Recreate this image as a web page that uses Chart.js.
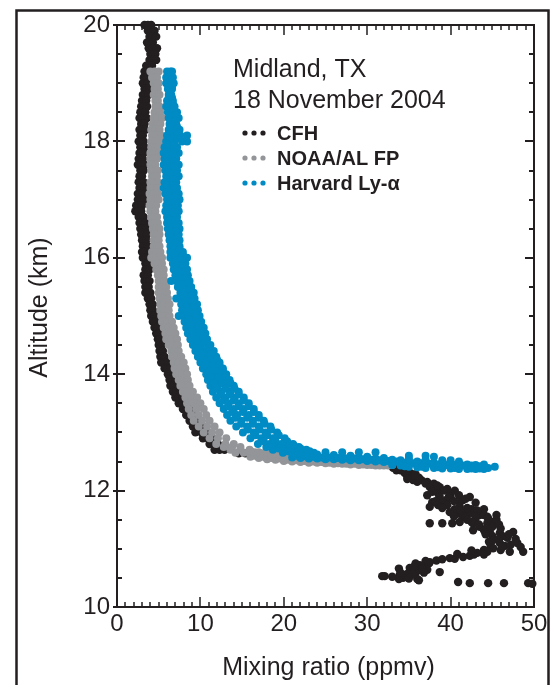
<!DOCTYPE html>
<html><head><meta charset="utf-8">
<script src="https://cdn.jsdelivr.net/npm/chart.js@4/dist/chart.umd.min.js"></script>
<style>html,body{margin:0;padding:0;background:#fff;overflow:hidden}canvas{display:block}</style>
</head><body>
<canvas id="c" width="558" height="685"></canvas>
<script>
// ---------- tick labels and texts ----------
const xTickLabels = [0, 10, 20, 30, 40, 50];
const yTickLabels = [10, 12, 14, 16, 18, 20];
const seriesNames = ['CFH', 'NOAA/AL FP', 'Harvard Ly-\u03b1'];
const annotationLines = ['Midland, TX', '18 November 2004'];
const xTitle = 'Mixing ratio (ppmv)';
const yTitle = 'Altitude (km)';

// ---------- CFH (black): altitude levels (km) and mixing ratios (ppmv) read at each ----------
const cfhAlt = [20.0,19.9,19.8,19.7,19.6,19.5,19.4,19.3,19.2,19.1,
  19.0,18.9,18.8,18.7,18.6,18.5,18.4,18.3,18.2,18.1,
  18.0,17.9,17.8,17.7,17.6,17.5,17.4,17.3,17.2,17.1,
  17.0,16.9,16.8,16.7,16.6,16.5,16.4,16.3,16.2,16.1,
  16.0,15.9,15.8,15.7,15.6,15.5,15.4,15.3,15.2,15.1,
  15.0,14.9,14.8,14.7,14.6,14.5,14.4,14.3,14.2,14.1,
  14.0,13.9,13.8,13.7,13.6,13.5,13.4,13.3,13.2,13.1,
  13.0,12.9,12.8,12.7,12.64,12.55,12.5,12.45];
const cfhX = [[3.3,3.7,4.1],[3.7,4.1,4.5],[3.9,4.3,4.7],[3.6,3.9,4.3],[3.8,4.3,4.8],[4.0,4.3,4.6],[3.9,4.3,4.7],[3.5,3.8,4.2],[3.3,3.5,3.8],[3.2,3.4,3.6],
  [3.1,3.4,3.7],[3.3,3.6,3.9],[3.1,3.4,3.8],[3.0,3.3,3.5],[2.9,3.2,3.6],[2.8,3.1,3.4],[2.7,3.1,3.6],[2.9,3.1,3.3],[2.7,3.0,3.4],[2.8,3.0,3.1],
  [2.6,2.9,3.2],[2.8,3.0,3.3],[2.7,2.9,3.2],[2.6,2.8,3.1],[2.5,2.9,3.3],[2.8,3.0,3.2],[2.7,2.8,3.0],[2.6,2.9,3.2],[2.7,3.0,3.3],[2.5,2.8,3.1],
  [2.5,2.9,3.3],[2.3,2.6,3.0],[2.2,2.5,2.9],[2.6,2.9,3.2],[2.7,3.0,3.4],[2.8,3.1,3.5],[2.9,3.2,3.6],[3.0,3.2,3.5],[3.1,3.4,3.7],[3.0,3.2,3.4],
  [3.1,3.3,3.5],[3.4,3.5,3.7],[3.4,3.6,3.9],[3.2,3.4,3.7],[3.3,3.6,3.9],[3.4,3.6,3.8],[3.4,3.7,4.0],[3.7,3.9,4.1],[3.9,4.1,4.3],[4.0,4.15,4.3],
  [4.1,4.3,4.5],[4.3,4.5,4.7],[4.5,4.7,4.9],[4.7,4.85,5.0],[4.9,5.05,5.2],[5.0,5.2,5.4],[5.1,5.3,5.5],[5.2,5.45,5.7],[5.3,5.7,6.1],[5.7,6.0,6.4],
  [6.1,6.5,6.9],[6.3,6.6,7.0],[6.4,6.8,7.3],[6.7,7.1,7.6],[7.0,7.4,7.9],[7.4,7.8,8.3],[7.9,8.3,8.7],[8.3,8.8,9.2],[8.7,9.2,9.7],[9.1,9.7,10.3],
  [9.4,10.1,10.9],[10.3,10.9,11.5],[11.1,11.6,12.1],[11.7,12.3,12.9],[14.6,15.4],[18,22,26],[28,30],[32]];
// CFH below the tropopause
const cfhLowAlt = [12.39,12.35,12.3,12.25,12.18,12.15,12.12,12.06,12.03,12.0,
  11.95,11.92,11.89,11.84,11.8,11.79,11.75,11.72,11.68,11.63,
  11.6,11.58,11.55,11.52,11.46,11.44,11.38,11.32,11.29,11.27,
  11.22,11.19,11.15,11.1,11.05,11.01,10.98,10.95,10.93,10.9,
  10.88,10.86,10.84,10.83,10.82,10.8,10.77,10.72,10.7,10.67,
  10.64,10.62,10.6,10.57,10.55,10.53,10.5,10.48,10.46,10.43,
  10.41,10.4];
const cfhLowX = [[33.1],[34.0,33.5],[34.5,35.2],[35.5,34.8],[35.5,36.5],[36.0,37.2],[37.0,38.0],[37.5,38.7],[38.0,39.6],[39.2,40.5],
  [38.5,40.0],[37.2,41.0],[38.7,40.0,42.3],[39.5,41.5],[37.8,39.0],[41.1,43.0],[38.5,39.6],[37.5,41.1],[40.5,42.5,44.0],[39.9,41.5],
  [40.8,42.8],[42.0,43.5,44.0,45.5],[41.5,44.4],[43.0,44.5],[41.1,42.5,45.0],[37.5,39.0,40.2,42.7,44.4],[43.5,45.0],[42.7,44.0],[44.7,47.5],[45.9],
  [45.0,46.2],[46.8],[45.1],[45.9,48.0],[44.8,46.5],[45.1],[44.0,46.0],[44.4,47.1,48.7],[43.2],[42.8,44.0],
  [42.3],[41.5],[39.9],[40.5],[39.0],[38.3],[37.5],[36.3],[36.9],[35.1],
  [37.2],[36.0],[38.7],[34.8],[33.9],[32.1,31.8],[34.3],[36.0,33.8],[36.2],[40.9],
  [42.3,44.5,46.4,49.3],[49.8]];
const cfhExtraAlt = [12.37,12.33,12.28,12.22,12.2,12.09,11.98,11.9,11.86,11.82,
  11.7,11.66,11.56,11.5,11.42,11.35,11.25,11.17,11.12,11.07,
  11.03,10.97,10.91,10.79,10.75,10.69,10.66,10.59,10.56,10.52,10.49];
const cfhExtraX = [[33.6],[34.6],[35.8],[36.2],[34.8],[38.4],[37.8],[39.8],[41.8],[38.2,40.4],
  [39.0,42.0],[41.2,43.2],[40.4,43.0],[42.0,45.5],[43.4,45.8],[44.3,46.0],[44.2,47.0],[45.8,47.8],[44.6],[47.2],
  [46.2,48.4],[42.5],[40.8],[37.0],[35.8,37.4],[35.6],[33.8,36.6],[34.0,36.8],[35.5],[33.0],[35.0]];

// ---------- NOAA/AL frost point (grey) ----------
const noaaAlt = [19.2,19.1,19.0,18.9,18.8,18.7,18.6,18.5,18.4,18.3,
  18.2,18.1,18.0,17.9,17.8,17.7,17.6,17.5,17.4,17.3,
  17.2,17.1,17.0,16.9,16.8,16.7,16.6,16.5,16.4,16.3,
  16.2,16.1,16.0,15.9,15.8,15.7,15.6,15.5,15.4,15.3,
  15.2,15.1,15.0,14.9,14.8,14.7,14.6,14.5,14.4,14.3,
  14.2,14.1,14.0,13.9,13.8,13.7,13.6,13.5,13.4,13.3,
  13.2,13.1,13.0,12.9,12.8,12.75,12.7,12.65];
const noaaX = [[4.0,4.5,5.0],[4.2,4.5,4.8],[4.4,4.7,5.0],[4.5,4.7,4.9],[4.4,4.8,5.1],[4.6,4.8,4.9],[4.6,4.9,5.1],[4.5,4.9,5.2],[4.4,4.9,5.4],[4.3,4.8,5.2],
  [4.1,4.6,5.1],[4.2,4.8,5.3],[4.1,4.7,5.3],[4.1,4.6,5.0],[4.0,4.5,5.1],[4.0,4.4,4.8],[4.0,4.3,4.6],[4.1,4.5,4.9],[4.2,4.5,4.8],[4.0,4.5,4.9],
  [4.0,4.4,4.8],[3.9,4.4,4.9],[4.0,4.5,5.0],[3.9,4.3,4.7],[4.0,4.3,4.6],[4.1,4.5,4.8],[4.2,4.5,4.9],[4.3,4.7,5.1],[4.4,4.7,5.1],[4.4,4.7,5.0],
  [4.4,4.8,5.1],[4.2,4.7,5.2],[4.1,4.7,5.4],[4.5,4.9,5.4],[4.7,5.1,5.6],[4.9,5.2,5.6],[5.0,5.3,5.7],[5.0,5.4,5.9],[5.0,5.5,6.0],[5.1,5.6,6.1],
  [5.2,5.7,6.3],[5.2,5.7,6.2],[5.3,5.8,6.3],[5.4,6.0,6.6],[5.6,6.2,6.8],[5.8,6.4,7.0],[5.9,6.5,7.2],[6.2,6.7,7.3],[6.5,6.9,7.4],[6.6,7.2,7.7],
  [6.8,7.4,8.0],[6.9,7.6,8.2],[7.1,7.8,8.4],[7.4,8.0,8.5],[7.6,8.2,8.7],[7.9,8.5,9.1],[8.2,8.9,9.6],[8.4,9.2,10.0],[8.6,9.5,10.4],[8.9,9.8,10.7],
  [9.2,10.2,11.1],[9.8,10.8,11.7],[10.4,11.4,12.3],[11.1,12.1,13.1],[11.9,13.0,14.0],[12.8,13.8,14.8],[13.6,14.8,15.9],[14.2,15.2,16.2,17.0]];
// NOAA along the tropopause shelf: mixing ratio stations and altitudes read at each
const noaaShelfX = [16,16.5,17,17.5,18,18.5,19,19.5,20,20.5,21,21.5,22,22.5,23,23.5,24,24.5,25,25.5,
  26,26.5,27,27.5,28,28.5,29,29.5,30,30.5,31,31.5,32,32.5,33];
const noaaShelfAlt = [[12.58,12.63,12.68],[12.6,12.66],[12.56,12.61,12.66],[12.58,12.64],[12.54,12.59,12.64],[12.56,12.62],[12.53,12.58,12.63],[12.55,12.61],[12.51,12.56,12.62],[12.53,12.59],
  [12.5,12.55,12.61],[12.52,12.58],[12.49,12.54,12.6],[12.51,12.57],[12.48,12.53,12.59],[12.5,12.56],[12.48,12.53,12.58],[12.49,12.55],[12.47,12.52,12.58],[12.48,12.54],
  [12.46,12.51,12.57],[12.47,12.53],[12.46,12.5,12.56],[12.46,12.52],[12.45,12.5,12.55],[12.46,12.51],[12.44,12.49,12.54],[12.45,12.5],[12.44,12.48,12.53],[12.44,12.49],
  [12.43,12.47,12.52],[12.43,12.48],[12.43,12.46,12.5],[12.43,12.47],[12.44,12.46]];

// ---------- Harvard Lyman-alpha (blue) ----------
const harvAlt = [19.2,19.1,19.0,18.9,18.8,18.7,18.6,18.5,18.4,18.3,
  18.2,18.1,18.0,17.9,17.8,17.7,17.6,17.5,17.4,17.3,
  17.2,17.1,17.0,16.9,16.8,16.7,16.6,16.5,16.4,16.3,
  16.2,16.1,16.0,15.9,15.8,15.7,15.6,15.5,15.4,15.3,
  15.2,15.1,15.0,14.9,14.8,14.7,14.6,14.5,14.4,14.3,
  14.2,14.1,14.0,13.9,13.8,13.7,13.6,13.5,13.4,13.3,
  13.2,13.1,13.0,12.9,12.8,12.75,12.7,12.65];
const harvX = [[6.0,6.4,6.6],[5.9,6.3,6.7],[5.9,6.4,6.8],[6.1,6.4,6.6],[6.2,6.5],[6.0,6.4,6.7],[5.9,6.4,6.9],[6.1,6.6,7.2],[6.2,6.8,7.4],[6.3,6.7,7.1],
  [6.2,6.8,7.5],[6.0,6.8,7.6,8.4],[5.9,6.8,7.8,8.4],[5.7,6.5,7.2],[5.6,6.5,7.4],[5.7,6.4,7.1],[5.6,6.5,7.4],[5.8,6.5,7.2],[5.9,6.6,7.4],[5.7,6.4,7.1],
  [5.6,6.4,7.2],[5.8,6.6,7.4],[6.0,6.8,7.5],[5.9,6.6,7.3],[5.8,6.6,7.4],[6.0,6.6,7.2],[6.0,6.7,7.4],[6.1,6.8,7.5],[6.2,6.8,7.4],[6.3,6.9,7.5],
  [6.4,7.0,7.5],[6.4,7.2,7.9],[6.4,7.4,8.4],[6.7,7.5,8.2],[6.8,7.6,8.4],[7.0,7.8,8.5],[6.5,7.1,7.9,8.7],[7.3,8.1,8.9],[7.6,8.4,9.2],[7.1,7.6,8.5,9.3],
  [7.7,8.6,9.6],[7.8,8.8,9.7],[7.4,8.0,9.0,9.9],[8.1,9.1,10.1],[8.3,9.3,10.4],[8.5,9.5,10.6],[8.8,9.8,10.8],[9.1,10.1,11.2],[9.4,10.5,11.6],[9.7,10.8,11.9],
  [10.0,10.8,11.6,12.3],[10.3,11.1,11.9,12.7],[10.7,11.5,12.3,13.1],[10.9,11.8,12.6,13.5],[11.2,12.1,13.1,14.0],[11.5,12.5,13.6,14.6],[11.9,13.0,14.1,15.2],[12.3,13.4,14.6,15.8],[12.8,14.0,15.2,16.4],[13.2,14.4,15.8,17.0],
  [13.6,14.9,16.3,17.6],[14.3,15.6,17.0,18.4],[15.1,16.4,17.8,19.2],[16.0,17.3,18.7,20.1],[16.9,18.3,19.7,21.1],[17.9,19.2,20.5,21.8],[18.7,20.0,21.4,22.7],[19.9,21.1,22.4,23.6]];
// Harvard readings between the levels above
const harvMidAlt = [19.15,19.05,18.95,18.85,18.75,18.65,18.55,18.45,18.35,18.25,
  18.15,18.05,17.95,17.85,17.75,17.65,17.55,17.45,17.35,17.25,
  17.15,17.05,16.95,16.85,16.75,16.65,16.55,16.45,16.35,16.25,
  16.15,16.05,15.95,15.85,15.75,15.65,15.55,15.45,15.35,15.25,
  15.15,15.05,14.95,14.85,14.75,14.65,14.55,14.45,14.35,14.25,
  14.15,14.05,13.95,13.85,13.75,13.65,13.55,13.45,13.35,13.25,
  13.15,13.05,12.95,12.85,12.775,12.725,12.675];
const harvMidX = [[6.2,6.5],[6.1,6.6],[6.2,6.6],[6.3],[6.2,6.6],[6.1,6.7],[6.2,6.8],[6.5,7.1],[6.5,7.0],[6.5,7.2],
  [6.4,7.2],[6.3,7.3],[6.1,6.9],[6.0,6.9],[6.0,6.8],[6.0,6.9],[6.1,6.9],[6.2,7.0],[6.0,6.8],[6.0,6.8],
  [6.2,7.0],[6.4,7.1],[6.3,7.0],[6.2,7.0],[6.3,6.9],[6.3,7.0],[6.4,7.1],[6.5,7.1],[6.6,7.2],[6.7,7.2],
  [6.8,7.5],[6.9,7.9],[7.1,7.8],[7.2,8.0],[7.4,8.2],[7.5,8.3],[7.7,8.5],[8.0,8.8],[8.0,8.9],[8.2,9.1],
  [8.3,9.2],[8.5,9.4],[8.6,9.6],[8.8,9.9],[9.0,10.0],[9.3,10.3],[9.6,10.6],[9.8,11.0],[10.2,11.3],[10.4,11.2,12.0],
  [10.7,11.5,12.3],[11.1,11.9,12.7],[11.3,12.2,13.0],[11.6,12.6,13.6],[12.0,13.0,14.1],[12.4,13.5,14.6],[12.8,14.0,15.2],[13.3,14.6,15.8],[13.8,15.1,16.4],[14.2,15.6,17.0],
  [14.9,16.3,17.7],[15.7,17.1,18.5],[16.6,18.0,19.4],[17.6,19.0,20.4],[18.6,19.9,21.2],[19.4,20.7,22.0],[20.5,21.8,23.1]];
const harvShelfX = [21,21.5,22,22.5,23,23.5,24,24.5,25,25.5,26,26.5,27,27.5,28,28.5,29,29.5,30,30.5,
  31,31.5,32,32.5,33,33.5,34,34.5,35,35.5,36,36.5,37,37.5,38,38.5,39,39.5,40,40.5,
  41,41.5,42,42.5,43,43.5,44,45.3];
const harvShelfAlt = [[12.57,12.64],[12.6],[12.56,12.63],[12.59],[12.55,12.6,12.66],[12.58],[12.55,12.62],[12.57],[12.54,12.59,12.66],[12.57],
  [12.54,12.61],[12.56],[12.53,12.58,12.66],[12.55],[12.52,12.6],[12.55],[12.52,12.57,12.66],[12.54],[12.51,12.58],[12.53],
  [12.5,12.55,12.66],[12.52],[12.49,12.56],[12.51],[12.48,12.53],[12.5],[12.47,12.52],[12.48],[12.45,12.5,12.6],[12.47],
  [12.45,12.5],[12.47],[12.44,12.49,12.6],[12.46],[12.43,12.48,12.58],[12.45],[12.42,12.47],[12.44],[12.42,12.46,12.52],[12.44],
  [12.41,12.46],[12.43],[12.41,12.45],[12.43],[12.41,12.44],[12.42],[12.42],[12.41]];
const harvShelf2X = [33,34,35,36,37,38,39,40,41,42,43,44,34.5,36.5,38.5,40.5,42.5,43.5,44.5];
const harvShelf2Alt = [[12.44],[12.43],[12.41,12.55],[12.4],[12.39,12.53],[12.39],[12.38,12.52],[12.38],[12.37,12.5],[12.37],
  [12.37],[12.37,12.45],[12.42],[12.41],[12.4],[12.39],[12.38],[12.38],[12.39]];

// ---------- build point lists ----------
function byLevel(alts, xs) { const p = []; alts.forEach((a, i) => (xs[i] || []).forEach(v => p.push({x: v, y: a}))); return p; }
function byStation(xs, alts) { const p = []; xs.forEach((v, i) => (alts[i] || []).forEach(a => p.push({x: v, y: a}))); return p; }

const INK = '#231f20', GREY = '#939598', BLUE = '#008bc4';
const FONT = '"Liberation Sans", Arial, Helvetica, sans-serif';
Chart.defaults.font.family = FONT;

const cfhPts = byLevel(cfhAlt, cfhX).concat(byLevel(cfhLowAlt, cfhLowX), byLevel(cfhExtraAlt, cfhExtraX));
const noaaPts = byLevel(noaaAlt, noaaX).concat(byStation(noaaShelfX, noaaShelfAlt));
const harvPts = byLevel(harvAlt, harvX).concat(byLevel(harvMidAlt, harvMidX), byStation(harvShelfX, harvShelfAlt), byStation(harvShelf2X, harvShelf2Alt));

const decor = {
  id: 'decor',
  afterDraw(chart) {
    const {ctx, chartArea: a, scales: {x, y}} = chart;
    ctx.save();
    ctx.strokeStyle = INK; ctx.lineWidth = 2; ctx.lineCap = 'butt';
    const seg = (x1, y1, x2, y2) => { ctx.beginPath(); ctx.moveTo(x1, y1); ctx.lineTo(x2, y2); ctx.stroke(); };
    // top and right frame of the plot box
    seg(a.left - 1, a.top, a.right + 1, a.top);
    seg(a.right, a.top - 1, a.right, a.bottom + 1);
    // x ticks (minor every 1, major every 10), inward on top and bottom
    for (let v = x.min; v <= x.max + 1e-6; v += 1) {
      const px = Math.round(x.getPixelForValue(v));
      const major = xTickLabels.some(t => Math.abs(t - v) < 1e-6);
      const len = major ? 10 : 5;
      ctx.lineWidth = 1.5;
      seg(px, a.top, px, a.top + len);
      seg(px, a.bottom, px, a.bottom - len);
    }
    // y ticks (minor every 0.5, major every 2)
    for (let v = y.min; v <= y.max + 1e-6; v += 0.5) {
      const py = Math.round(y.getPixelForValue(v));
      const major = yTickLabels.some(t => Math.abs(t - v) < 1e-6);
      ctx.lineWidth = 2;
      if (major) { seg(a.left - 4, py, a.left + 8, py); seg(a.right - 9, py, a.right, py); }
      else { seg(a.left, py, a.left + 5, py); seg(a.right - 5, py, a.right, py); }
    }
    // outer figure frame
    ctx.lineWidth = 2.5;
    ctx.beginPath(); ctx.moveTo(16.5, chart.height); ctx.lineTo(16.5, 10.5); ctx.lineTo(548.5, 10.5); ctx.lineTo(548.5, chart.height); ctx.stroke();
    // axis titles
    ctx.fillStyle = INK;
    ctx.font = '25px ' + FONT;
    ctx.textAlign = 'center';
    ctx.textBaseline = 'alphabetic';
    ctx.fillText(xTitle, 328.5, 675);
    ctx.save();
    ctx.translate(40, y.getPixelForValue(15) - 8.5);
    ctx.rotate(-Math.PI / 2);
    ctx.textBaseline = 'middle';
    ctx.fillText(yTitle, 0, 0);
    ctx.restore();
    // annotation
    ctx.textAlign = 'left';
    ctx.textBaseline = 'alphabetic';
    ctx.font = '25px ' + FONT;
    ctx.fillText(annotationLines[0], 233, 77);
    ctx.fillText(annotationLines[1], 233, 108);
    // legend
    const colors = [INK, GREY, BLUE];
    const rows = [133, 158, 183];
    ctx.font = 'bold 20px ' + FONT;
    seriesNames.forEach((name, i) => {
      ctx.fillStyle = colors[i];
      [245, 254, 263].forEach(cx => { ctx.beginPath(); ctx.arc(cx, rows[i], 2.6, 0, Math.PI * 2); ctx.fill(); });
      ctx.fillStyle = INK;
      ctx.fillText(name, 277, rows[i] + 7);
    });
    ctx.restore();
  }
};

new Chart(document.getElementById('c'), {
  type: 'scatter',
  data: {
    datasets: [
      {label: seriesNames[2], data: harvPts, backgroundColor: BLUE, borderWidth: 0, pointRadius: 4, order: 1, clip: false},
      {label: seriesNames[1], data: noaaPts, backgroundColor: GREY, borderWidth: 0, pointRadius: 4, order: 2, clip: false},
      {label: seriesNames[0], data: cfhPts, backgroundColor: INK, borderWidth: 0, pointRadius: 4.2, order: 3, clip: false}
    ]
  },
  options: {
    responsive: false, animation: false, devicePixelRatio: 1,
    events: [],
    layout: {padding: {top: 25, right: 24, left: 0, bottom: 0}},
    plugins: {legend: {display: false}, tooltip: {enabled: false}},
    scales: {
      x: {
        type: 'linear', min: 0, max: 50,
        afterBuildTicks: s => { s.ticks = xTickLabels.map(v => ({value: v})); },
        afterFit: s => { s.height = 78; },
        grid: {display: false, drawTicks: false},
        border: {display: true, color: INK, width: 2},
        ticks: {font: {size: 24}, color: INK, padding: 3, maxRotation: 0},
        title: {display: false, text: xTitle}
      },
      y: {
        type: 'linear', min: 10, max: 20,
        afterBuildTicks: s => { s.ticks = yTickLabels.map(v => ({value: v})); },
        afterFit: s => { s.width = 117; },
        grid: {display: false, drawTicks: false},
        border: {display: true, color: INK, width: 2},
        ticks: {font: {size: 24}, color: INK, padding: 7},
        title: {display: false, text: yTitle}
      }
    }
  },
  plugins: [decor]
});
</script>
</body></html>
